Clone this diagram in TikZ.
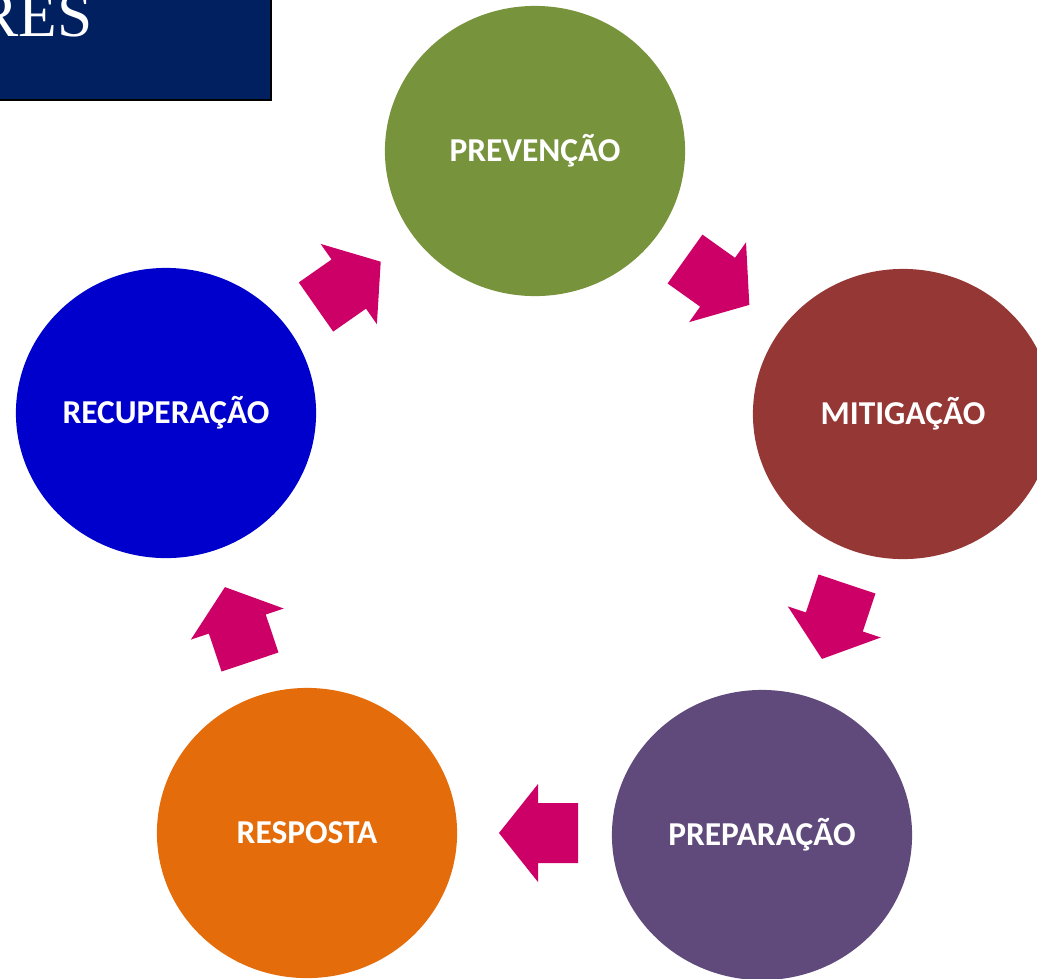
\documentclass[tikz,border=0pt]{standalone}
\usepackage{fontspec}
\setmainfont{Carlito}
\newfontfamily\resfont{Liberation Serif}
\usetikzlibrary{shapes.geometric}
\definecolor{cprev}{HTML}{77933C}
\definecolor{cmit}{HTML}{953735}
\definecolor{cprep}{HTML}{604A7B}
\definecolor{cresp}{HTML}{E46C0A}
\definecolor{crec}{HTML}{0000CC}
\definecolor{carrow}{HTML}{CC0066}
\definecolor{cnavy}{HTML}{002060}
\tikzset{
  phase/.style={ellipse, minimum width=3cm, minimum height=2.9cm, inner sep=0pt,
    text=white, font=\bfseries\fontsize{9.5}{11}\selectfont},
  blockarr/.pic={\fill[carrow] (0,-30) -- (40,-30) -- (40,-49) -- (79,0) -- (40,49) -- (40,30) -- (0,30) -- cycle;}
}
\begin{document}
\begin{tikzpicture}[x=0.01cm,y=-0.01cm]
\useasboundingbox (0,0) rectangle (1037,978);
% title box
\fill[cnavy, draw=black, line width=0.6pt] (-10,-10) rectangle (271,100);
\node[anchor=base east, text=white, font=\resfont\fontsize{18}{19}\selectfont, inner sep=0pt] (title) at (93,36) {RES};
% circles
\node[phase, fill=cprev] (prev) at (535,151) {PREVENÇÃO};
\node[phase, fill=cmit]  (mit)  at (903,414) {MITIGAÇÃO};
\node[phase, fill=cprep] (prep) at (762,835) {PREPARAÇÃO};
\node[phase, fill=cresp] (resp) at (307,833) {RESPOSTA};
\node[phase, fill=crec]  (rec)  at (166,413) {RECUPERAÇÃO};
% block arrows
\pic[rotate=35] at (316,307) {blockarr};
\pic[rotate=-35.5] at (685,259) {blockarr};
\pic[rotate=-108.5] at (847,584) {blockarr};
\pic[rotate=180] at (578,833) {blockarr};
\pic[rotate=108.5] at (250,662) {blockarr};
\end{tikzpicture}
\end{document}
